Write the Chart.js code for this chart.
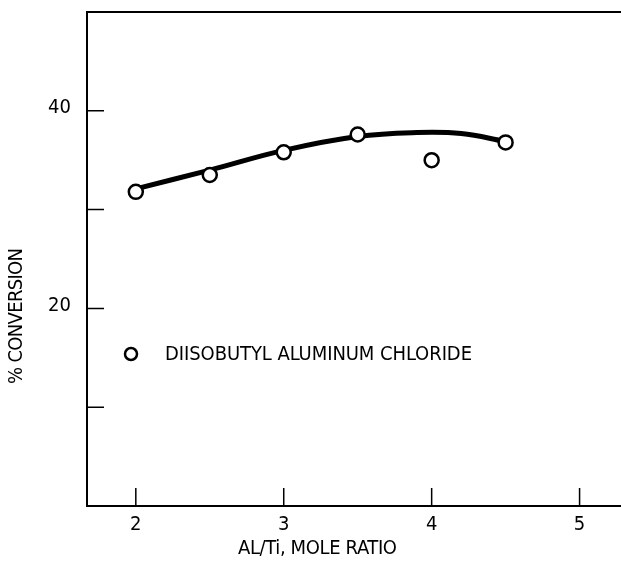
<!DOCTYPE html>
<html>
<head>
<meta charset="utf-8">
<script src="https://cdn.jsdelivr.net/npm/chart.js@4.4.0/dist/chart.umd.min.js"></script>
<style>
  html, body { margin: 0; padding: 0; background: #fff; }
  #wrap { width: 621px; height: 561px; }
</style>
</head>
<body>
<div id="wrap"><canvas id="conv"></canvas></div>
<script>
// measured points
const ratio = [2, 2.5, 3, 3.5, 4, 4.5];
const conversion = [31.8, 33.5, 35.8, 37.6, 35.0, 36.8];
// smooth trend curve
const fitRatio = [2, 2.5, 3, 3.5, 3.9, 4.2, 4.5];
const fitConversion = [32.1, 34.0, 36.0, 37.4, 37.8, 37.7, 36.9];

const xTicks = [2, 3, 4, 5];
const yTicks = [10, 20, 30, 40];
const yLabelled = [20, 40];

const seriesName = 'DIISOBUTYL ALUMINUM CHLORIDE';
const xTitle = 'AL/Ti, MOLE RATIO';
const yTitle = '% CONVERSION';

const FONT = '"Liberation Sans Narrow", "DejaVu Sans Condensed", "Roboto Condensed", sans-serif';

// spread text so it covers a given width
function spacedText(ctx, text, x, y, width) {
  ctx.letterSpacing = '0px';
  const w = ctx.measureText(text).width;
  const sp = (width - w) / (text.length - 1);
  ctx.letterSpacing = sp + 'px';
  ctx.fillText(text, x, y);
  ctx.letterSpacing = '0px';
}

const frame = {
  id: 'frame',
  afterDraw(chart) {
    const { ctx, chartArea: a, scales } = chart;
    const x = scales.x, y = scales.y;
    ctx.save();
    ctx.strokeStyle = '#000';

    // top edge of the box
    ctx.lineWidth = 2;
    ctx.beginPath();
    ctx.moveTo(a.left, a.top);
    ctx.lineTo(a.right, a.top);
    ctx.stroke();

    // inward tick marks
    ctx.lineWidth = 1.5;
    ctx.beginPath();
    xTicks.forEach(v => {
      const px = x.getPixelForValue(v);
      ctx.moveTo(px, a.bottom);
      ctx.lineTo(px, a.bottom - 18);
    });
    yTicks.forEach(v => {
      const py = y.getPixelForValue(v);
      ctx.moveTo(a.left, py);
      ctx.lineTo(a.left + 17, py);
    });
    ctx.stroke();

    ctx.fillStyle = '#000';
    ctx.font = '20px ' + FONT;
    ctx.textBaseline = 'middle';

    // y labels, only every other tick is numbered
    ctx.textAlign = 'right';
    yLabelled.forEach(v => {
      ctx.fillText(String(v), a.left - 16, y.getPixelForValue(v) - 3);
    });

    // legend
    ctx.lineWidth = 2.5;
    ctx.fillStyle = '#fff';
    ctx.beginPath();
    ctx.arc(131, 354, 6, 0, Math.PI * 2);
    ctx.fill();
    ctx.stroke();

    ctx.fillStyle = '#000';
    ctx.textAlign = 'left';
    spacedText(ctx, seriesName, 165, 355, 307);

    // axis titles
    spacedText(ctx, xTitle, 238, 549, 159);

    ctx.translate(17, 316);
    ctx.rotate(-Math.PI / 2);
    spacedText(ctx, yTitle, -68, 0, 136);
    ctx.restore();
  }
};

new Chart(document.getElementById('conv'), {
  type: 'scatter',
  data: {
    datasets: [
      {
        label: seriesName,
        data: ratio.map((r, i) => ({ x: r, y: conversion[i] })),
        pointRadius: 7,
        pointHoverRadius: 7,
        pointBorderWidth: 2.5,
        pointBackgroundColor: '#fff',
        pointBorderColor: '#000',
        showLine: false
      },
      {
        label: 'trend',
        data: fitRatio.map((r, i) => ({ x: r, y: fitConversion[i] })),
        showLine: true,
        borderColor: '#000',
        borderWidth: 5,
        pointRadius: 0,
        tension: 0.4,
        borderCapStyle: 'round'
      }
    ]
  },
  options: {
    responsive: true,
    maintainAspectRatio: false,
    animation: false,
    layout: { autoPadding: false, padding: { top: 12, right: 0, left: 0, bottom: 0 } },
    plugins: {
      legend: { display: false },
      tooltip: { enabled: false }
    },
    scales: {
      x: {
        type: 'linear',
        min: 1.67,
        max: 5.28,
        grid: { display: false, drawTicks: false },
        border: { display: true, color: '#000', width: 2 },
        afterBuildTicks: s => { s.ticks = xTicks.map(v => ({ value: v })); },
        afterFit: s => { s.height = 55; },
        ticks: {
          color: '#000',
          padding: 7,
          font: { family: FONT, size: 20 },
          callback: v => String(v)
        }
      },
      y: {
        min: 0,
        max: 50,
        grid: { display: false, drawTicks: false },
        border: { display: true, color: '#000', width: 2 },
        afterBuildTicks: s => { s.ticks = yTicks.map(v => ({ value: v })); },
        afterFit: s => { s.width = 87; },
        ticks: { display: false }
      }
    }
  },
  plugins: [frame]
});
</script>
</body>
</html>
